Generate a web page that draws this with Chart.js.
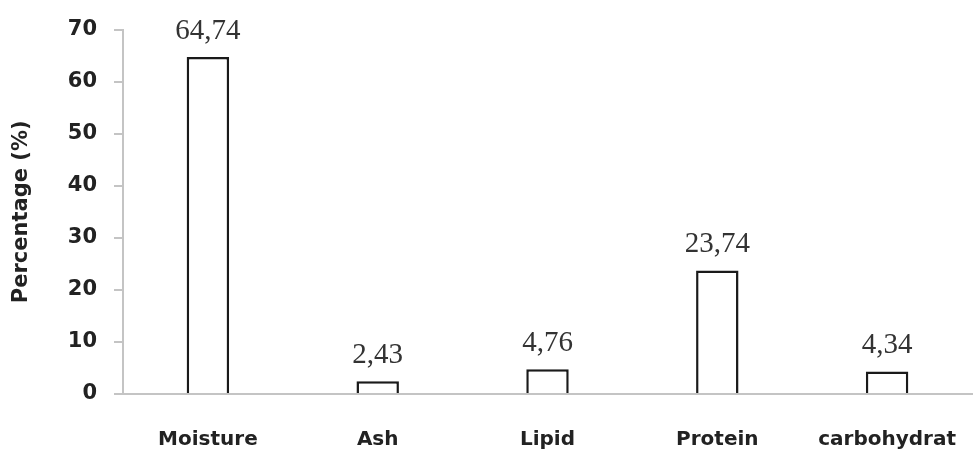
<!DOCTYPE html>
<html><head><meta charset="utf-8">
<script src="https://cdn.jsdelivr.net/npm/chart.js@4/dist/chart.umd.min.js"></script>
<style>html,body{margin:0;padding:0;background:#fff}#wrap{width:976px;height:449px}</style>
</head><body><div id="wrap"><canvas id="c" width="976" height="449"></canvas></div>
<script>
const categories = ["Moisture","Ash","Lipid","Protein","carbohydrat"];
const values = [64.74, 2.43, 4.76, 23.74, 4.34];
const valueLabels = ["64,74","2,43","4,76","23,74","4,34"];
const yTicks = [0,10,20,30,40,50,60,70];
const yTitle = "Percentage (%)";

const labelPlugin = {
  id:'vlabels',
  afterDatasetsDraw(chart){
    const ctx = chart.ctx;
    const meta = chart.getDatasetMeta(0);
    ctx.save();
    ctx.font = '29px "Liberation Serif", serif';
    ctx.fillStyle = '#333';
    ctx.textAlign = 'center';
    ctx.textBaseline = 'alphabetic';
    meta.data.forEach((bar,i)=>{
      ctx.fillText(valueLabels[i], bar.x, bar.y - 18);
    });
    ctx.restore();
  }
};

new Chart(document.getElementById('c'), {
  type:'bar',
  data:{labels:categories, datasets:[{data:values, backgroundColor:'#fff', borderColor:'#1a1a1a', borderWidth:2.5, borderSkipped:'bottom', barPercentage:0.25, categoryPercentage:1}]},
  options:{
    responsive:false, animation:false,
    layout:{padding:{top:29,right:4,left:0,bottom:0}},
    plugins:{legend:{display:false}, tooltip:{enabled:false}},
    scales:{
      x:{
        grid:{display:false},
        border:{display:true,color:'#c4c4c4',width:2},
        ticks:{font:{family:'"DejaVu Sans"',size:20,weight:'bold'},color:'#222',padding:26,maxRotation:0},
        afterFit(s){ s.height = 55; s.paddingLeft = 0; s.paddingRight = 0; }
      },
      y:{
        min:0,max:70,
        afterBuildTicks(s){ s.ticks = yTicks.map(v=>({value:v})); },
        grid:{display:true,drawOnChartArea:false,drawTicks:true,tickLength:9,color:'#c4c4c4',lineWidth:2},
        border:{display:true,color:'#c4c4c4',width:2},
        ticks:{font:{family:'"DejaVu Sans"',size:21,weight:'bold'},color:'#222',padding:17},
        title:{display:true,text:yTitle,font:{family:'"DejaVu Sans"',size:21,weight:'bold'},color:'#222',padding:{top:9,bottom:0}},
        afterFit(s){ s.width = 123; }
      }
    }
  },
  plugins:[labelPlugin]
});
</script></body></html>
